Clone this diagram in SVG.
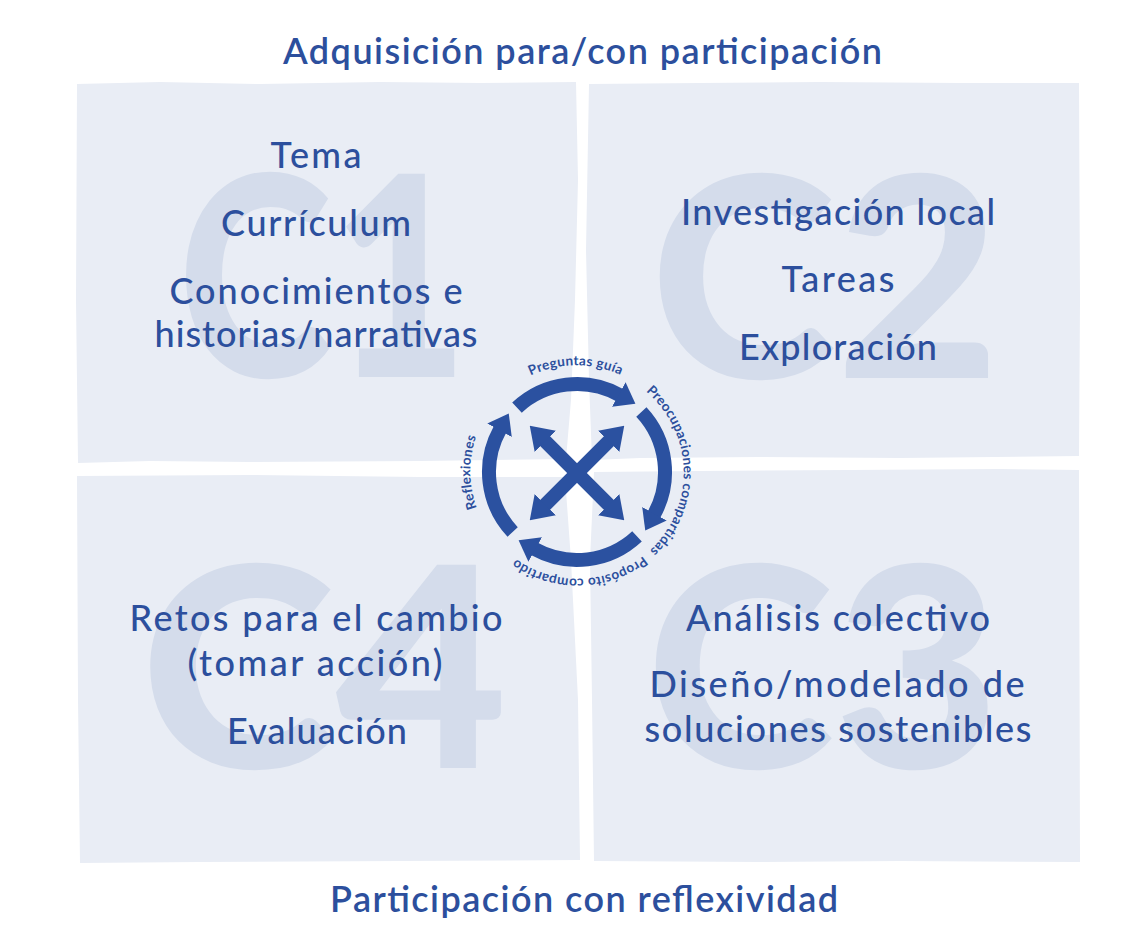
<svg xmlns="http://www.w3.org/2000/svg" xmlns:xlink="http://www.w3.org/1999/xlink" width="1136" height="938" viewBox="0 0 1136 938">
<style>
.panel{fill:#E9EDF5}
.big{font-family:"Lato","Liberation Sans",sans-serif;font-weight:900;font-size:280px;fill:#D4DCEB}
.t{font-family:"Lato","Liberation Sans",sans-serif;font-weight:500;font-size:36px;fill:#2C4F9D;text-anchor:middle}
.h{font-family:"Lato","Liberation Sans",sans-serif;font-weight:600;font-size:36px;fill:#2C4F9D;text-anchor:middle}
.ring{fill:none;stroke:#2B51A0;stroke-width:14}
.xl{fill:none;stroke:#2B51A0;stroke-width:14}
.c{font-family:"Lato","Liberation Sans",sans-serif;font-weight:700;font-size:13.5px;fill:#2C4F9D;letter-spacing:0.3px}
</style>
<defs>
<marker id="ah" markerUnits="userSpaceOnUse" markerWidth="19" markerHeight="28" viewBox="0 0 19 28" refX="1" refY="14" orient="auto"><path d="M0,0 L19,14 L0,28 z" fill="#2B51A0"/></marker>
<marker id="xh" markerUnits="userSpaceOnUse" markerWidth="22" markerHeight="30" viewBox="0 0 22 30" refX="1" refY="15" orient="auto-start-reverse"><path d="M0,0 L22,15 L0,30 z" fill="#2B51A0"/></marker>
<path id="circ" d="M502.05,546.95 A106,106 0 1 1 651.95,397.05 A106,106 0 1 1 502.05,546.95"/>
</defs>
<rect width="1136" height="938" fill="#FFFFFF"/>

<g id="panels">
<path class="panel" d="M77,84 L160,82 L260,84 L380,82 L480,83 L576,82 L578,180 L575,300 L571,400 L566,459 L420,461 L250,462 L150,461 L78,463 L76,300 Z"/>
<path class="panel" d="M589,84 L700,83 L820,82 L960,83 L1079,83 L1080,300 L1079,456 L900,458 L760,457 L640,458 L592,460 L589,380 L586,250 Z"/>
<path class="panel" d="M77,476 L250,475 L420,477 L565,477 L571,560 L578,700 L580,860 L400,861 L200,862 L80,863 L78,700 Z"/>
<path class="panel" d="M594,472 L700,471 L850,470 L1000,469 L1079,470 L1080,862 L900,861 L760,862 L594,861 L592,700 L590,560 Z"/>
</g>

<g id="watermarks">
<text class="big" x="178" y="377" textLength="290" lengthAdjust="spacingAndGlyphs">C1</text>
<text class="big" x="650" y="378" textLength="350" lengthAdjust="spacingAndGlyphs">C2</text>
<text class="big" x="646" y="768" textLength="354" lengthAdjust="spacingAndGlyphs">C3</text>
<text class="big" x="140" y="768" textLength="368" lengthAdjust="spacingAndGlyphs">C4</text>
</g>

<g id="header">
<text class="h" x="582.5" y="64" textLength="599" lengthAdjust="spacing">Adquisición para/con participación</text>
</g>
<g id="footer">
<text class="h" x="584" y="912" textLength="508" lengthAdjust="spacing">Participación con reflexividad</text>
</g>

<g id="c1">
<text class="t" x="316" y="168" textLength="91" lengthAdjust="spacing">Tema</text>
<text class="t" x="316" y="236" textLength="190" lengthAdjust="spacing">Currículum</text>
<text class="t" x="316" y="304" textLength="293" lengthAdjust="spacing">Conocimientos e</text>
<text class="t" x="316" y="347" textLength="323" lengthAdjust="spacing">historias/narrativas</text>
</g>
<g id="c2">
<text class="t" x="838" y="225" textLength="314" lengthAdjust="spacing">Investigación local</text>
<text class="t" x="838" y="292" textLength="113" lengthAdjust="spacing">Tareas</text>
<text class="t" x="838" y="360" textLength="198" lengthAdjust="spacing">Exploración</text>
</g>
<g id="c3">
<text class="t" x="838" y="631" textLength="304" lengthAdjust="spacing">Análisis colectivo</text>
<text class="t" x="837" y="697" textLength="375" lengthAdjust="spacing">Diseño/modelado de</text>
<text class="t" x="838" y="742" textLength="387" lengthAdjust="spacing">soluciones sostenibles</text>
</g>
<g id="c4">
<text class="t" x="316" y="631" textLength="373" lengthAdjust="spacing">Retos para el cambio</text>
<text class="t" x="315" y="676" textLength="255" lengthAdjust="spacing">(tomar acción)</text>
<text class="t" x="317" y="744" textLength="180" lengthAdjust="spacing">Evaluación</text>
</g>

<g id="connectors">
<path class="ring" marker-end="url(#ah)" d="M516.98,407.64 A88,88 0 0 1 619.66,395.03"/>
<path class="ring" marker-end="url(#ah)" d="M641.36,411.98 A88,88 0 0 1 653.97,514.66"/>
<path class="ring" marker-end="url(#ah)" d="M637.02,536.36 A88,88 0 0 1 534.34,548.97"/>
<path class="ring" marker-end="url(#ah)" d="M512.64,532.02 A88,88 0 0 1 500.03,429.34"/>
<path class="xl" marker-start="url(#xh)" marker-end="url(#xh)" d="M544.6,440.6 L609.4,505.4"/>
<path class="xl" marker-start="url(#xh)" marker-end="url(#xh)" d="M609.4,440.6 L544.6,505.4"/>
</g>

<g id="cycle-labels">
<text class="c" text-anchor="middle"><textPath xlink:href="#circ" startOffset="83.25">Reflexiones</textPath></text>
<text class="c" text-anchor="middle"><textPath xlink:href="#circ" startOffset="249.75">Preguntas guía</textPath></text>
<text class="c" text-anchor="middle"><textPath xlink:href="#circ" startOffset="416.25">Preocupaciones compartidas</textPath></text>
<text class="c" text-anchor="middle"><textPath xlink:href="#circ" startOffset="582.75">Propósito compartido</textPath></text>
</g>
</svg>
